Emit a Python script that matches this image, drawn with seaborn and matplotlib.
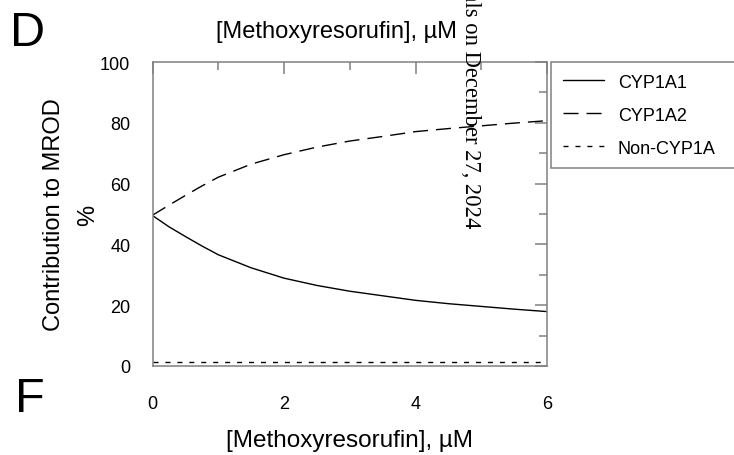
import matplotlib
matplotlib.use("Agg")
import matplotlib.pyplot as plt
import seaborn as sns
import pandas as pd

# ---- data ----
conc = [0, 0.25, 0.5, 0.75, 1, 1.5, 2, 2.5, 3, 3.5, 4, 4.5, 5, 5.5, 6]
cyp1a1 = [49.5, 45.8, 42.6, 39.5, 36.6, 32.3, 28.9, 26.5, 24.6, 23.1, 21.6, 20.5, 19.6, 18.7, 17.9]
cyp1a2 = [49.6, 52.9, 56.1, 59.2, 62.1, 66.4, 69.5, 72.0, 74.0, 75.5, 77.1, 78.1, 79.0, 79.9, 80.7]
non_cyp1a = [1.2] * 15
series_names = ["CYP1A1", "CYP1A2", "Non-CYP1A"]
x_ticks = [0, 2, 4, 6]
y_ticks = [0, 20, 40, 60, 80, 100]

df = pd.concat([
    pd.DataFrame({"conc": conc, "value": cyp1a1, "series": series_names[0]}),
    pd.DataFrame({"conc": conc, "value": cyp1a2, "series": series_names[1]}),
    pd.DataFrame({"conc": conc, "value": non_cyp1a, "series": series_names[2]}),
], ignore_index=True)

sns.set_theme(style="white")
plt.rcParams["font.family"] = ["Liberation Sans", "DejaVu Sans"]
plt.rcParams["text.color"] = "black"
plt.rcParams["axes.labelcolor"] = "black"
plt.rcParams["xtick.labelcolor"] = "black"
plt.rcParams["ytick.labelcolor"] = "black"

GRAY = "#808080"
fig = plt.figure(figsize=(7.34, 4.56), dpi=100)
ax = fig.add_axes([152.5 / 734, 1 - 367 / 456, (547 - 152.5) / 734, (367 - 63) / 456])

sns.lineplot(
    data=df, x="conc", y="value", hue="series", style="series",
    palette=["black"] * 3,
    dashes={"CYP1A1": "", "CYP1A2": (10.8, 5.8), "Non-CYP1A": (3.6, 5.0)},
    linewidth=1.0, ax=ax, legend=True,
)

ax.set_xlim(0, 6)
ax.set_ylim(0, 100)
ax.set_xticks(x_ticks)
ax.set_xticks([1, 3, 5], minor=True)
ax.set_yticks(y_ticks)
ax.set_yticks([10, 30, 50, 70, 90], minor=True)
ax.set_xticklabels([str(t) for t in x_ticks])
ax.set_yticklabels([str(t) for t in y_ticks])

for sp in ax.spines.values():
    sp.set_color(GRAY)
    sp.set_linewidth(1.1)
    sp.set_visible(True)

ax.tick_params(which="both", direction="in", top=True, right=True,
               color=GRAY, width=1.1, labelcolor="black")
ax.tick_params(which="major", length=8.5)
ax.tick_params(which="minor", length=5.5)
ax.tick_params(axis="x", which="major", pad=21, labelsize=13)
ax.tick_params(axis="y", which="major", pad=16, labelsize=13)

ax.set_xlabel("[Methoxyresorufin], µM", fontsize=17.5, color="black")
ax.xaxis.set_label_coords(0.5, -0.207)
ax.set_ylabel("Contribution to MROD\n%", fontsize=17, linespacing=1.7,
              multialignment="center", color="black")
ax.yaxis.set_label_coords(-0.136, 0.5)

handles, labels = ax.get_legend_handles_labels()
leg = ax.legend(
    handles, labels, loc="upper left",
    bbox_to_anchor=(551 / 734, 1 - 182 / 456, 0.3, 119 / 456),
    bbox_transform=fig.transFigure, mode="expand",
    borderaxespad=0, borderpad=0.65, labelspacing=0.88,
    handlelength=2.28, handletextpad=0.78, fontsize=13,
    frameon=True, fancybox=False, shadow=False,
)
leg.get_frame().set_edgecolor(GRAY)
leg.get_frame().set_linewidth(1.1)
leg.get_frame().set_facecolor("white")
leg.get_frame().set_alpha(1)
for t in leg.get_texts():
    t.set_color("black")
for lh in leg.get_lines():
    lh.set_linewidth(1.0)

# fragments of neighbouring panels
fig.text(28 / 734, 1 - 33 / 456, "D", fontsize=35, ha="center", va="center", color="black")
fig.text(30 / 734, 1 - 400 / 456, "F", fontsize=35, ha="center", va="center", color="black")
fig.text(337 / 734, 1 - 32 / 456, "[Methoxyresorufin], µM", fontsize=17,
         ha="center", va="center", color="black")

# vertical download stamp
fig.text(470 / 734, 1 - 228 / 456,
         "Downloaded from dmd.aspetjournals.org at ASPET Journals on December 27, 2024",
         rotation=270, fontsize=16.3, family=["Liberation Serif", "DejaVu Serif"],
         ha="center", va="bottom", color="black")

fig.savefig("out.png", dpi=100)
